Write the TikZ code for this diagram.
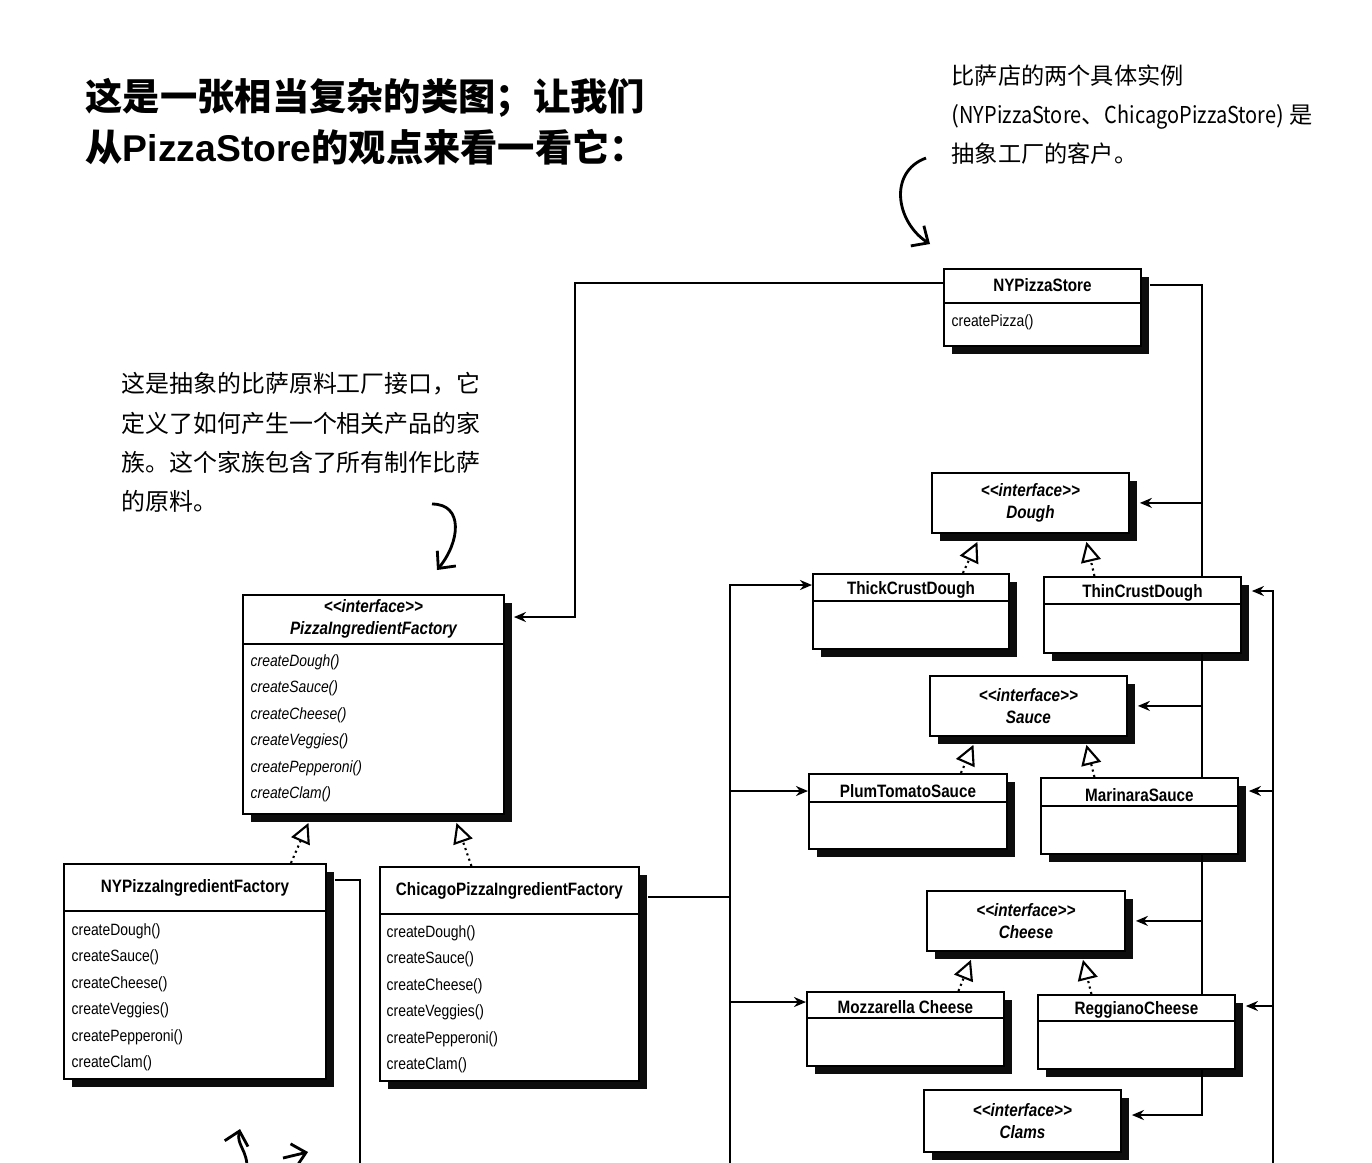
\documentclass[tikz,border=0pt]{standalone}
\usepackage{fontspec}
\usetikzlibrary{arrows.meta,positioning,calc,shadows,backgrounds}
\newfontfamily\umlfont[FakeStretch=0.85,Ligatures=TeXOff]{Liberation Sans}
\newfontfamily\latinfont{Liberation Sans}
\newfontfamily\cjkfont{Noto Sans CJK SC}

\begin{document}
\begin{tikzpicture}[
    x=0.01cm, y=-0.01cm,
    cls/.style={draw, line width=0.5pt, fill=white, anchor=north west,
      inner sep=0pt,
      drop shadow={fill=black, opacity=0.95, shadow xshift=0.08cm,
        shadow yshift=-0.08cm}},
    ttl/.style={font=\umlfont\bfseries\fontsize{5.1}{6}\selectfont},
    ifc/.style={font=\umlfont\bfseries\itshape\fontsize{5.1}{6.3}\selectfont,
      align=center},
    meth/.style={font=\umlfont\fontsize{4.65}{7.5}\selectfont, align=left,
      anchor=north west, inner sep=0pt},
    imeth/.style={meth, font=\umlfont\itshape\fontsize{4.65}{7.5}\selectfont},
    sep/.style={line width=0.4pt},
    wire/.style={line width=0.7pt},
    assoc/.style={wire, -{Stealth[length=1.2mm,width=1mm]}},
    realize/.style={line width=0.6pt, densely dotted,
      -{Triangle[open,length=2mm,width=2mm,line width=0.6pt]}},
    hand/.style={line width=0.8pt, -{Straight Barb[length=1.3mm,width=2.4mm]}},
    note/.style={font=\cjkfont\fontsize{6.6}{11.1}\selectfont, align=left,
      anchor=north west, inner sep=0pt}
  ]
  \useasboundingbox (0,0) rectangle (1372,1162);

  % heading and notes
  \node[font=\cjkfont\bfseries\fontsize{10.6}{14.5}\selectfont, align=left,
    anchor=north west, inner sep=0pt] (title) at (85,78)
    {这是一张相当复杂的类图；让我们\\从{\latinfont PizzaStore}的观点来看一看它：};
  \node[note] (storeNote) at (951,64)
    {比萨店的两个具体实例\\({\addfontfeature{FakeStretch=0.86}NYPizzaStore}、{\addfontfeature{FakeStretch=0.86}ChicagoPizzaStore}) 是\\抽象工厂的客户。};
  \node[note, font=\cjkfont\fontsize{6.8}{11.1}\selectfont] (pifNote) at (121,372)
    {这是抽象的比萨原料工厂接口，它\\定义了如何产生一个相关产品的家\\族。这个家族包含了所有制作比萨\\的原料。};

  % client
  \node[cls, minimum width=1.97cm, minimum height=0.77cm] (store) at (943,268) {};
  \node[ttl] (storeT) at ($(store.north)+(0,17)$) {NYPizzaStore};
  \draw[sep] ($(store.north west)+(0,35)$) -- ($(store.north east)+(0,35)$);
  \node[meth] (storeM) at ($(store.north west)+(8,46)$) {createPizza()};

  % abstract factory
  \node[cls, minimum width=2.61cm, minimum height=2.19cm] (pif) at (242,594) {};
  \node[ifc] (pifT) at ($(pif.north)+(0,25)$) {<<interface>>\\PizzaIngredientFactory};
  \draw[sep] ($(pif.north west)+(0,50)$) -- ($(pif.north east)+(0,50)$);
  \node[imeth] (pifM) at ($(pif.north west)+(8,60)$)
    {createDough()\\createSauce()\\createCheese()\\createVeggies()\\createPepperoni()\\createClam()};

  % concrete factories
  \node[cls, minimum width=2.62cm, minimum height=2.15cm] (nyf) at (63,863) {};
  \node[ttl] (nyfT) at ($(nyf.north)+(0,25)$) {NYPizzaIngredientFactory};
  \draw[sep] ($(nyf.north west)+(0,48)$) -- ($(nyf.north east)+(0,48)$);
  \node[meth] (nyfM) at ($(nyf.north west)+(8,60)$)
    {createDough()\\createSauce()\\createCheese()\\createVeggies()\\createPepperoni()\\createClam()};

  \node[cls, minimum width=2.59cm, minimum height=2.14cm] (chf) at (379,866) {};
  \node[ttl] (chfT) at ($(chf.north)+(0,25)$) {ChicagoPizzaIngredientFactory};
  \draw[sep] ($(chf.north west)+(0,48)$) -- ($(chf.north east)+(0,48)$);
  \node[meth] (chfM) at ($(chf.north west)+(7,59)$)
    {createDough()\\createSauce()\\createCheese()\\createVeggies()\\createPepperoni()\\createClam()};

  % products
  \node[cls, ifc, minimum width=1.97cm, minimum height=0.6cm] (dough) at (931,472)
    {<<interface>>\\Dough};
  \node[cls, minimum width=1.96cm, minimum height=0.75cm] (thick) at (812,573) {};
  \node[ttl] (thickT) at ($(thick.north)+(0,17)$) {ThickCrustDough};
  \draw[sep] ($(thick.north west)+(0,28)$) -- ($(thick.north east)+(0,28)$);
  \node[cls, minimum width=1.97cm, minimum height=0.76cm] (thin) at (1043,576) {};
  \node[ttl] (thinT) at ($(thin.north)+(0,17)$) {ThinCrustDough};
  \draw[sep] ($(thin.north west)+(0,28)$) -- ($(thin.north east)+(0,28)$);

  \node[cls, ifc, minimum width=1.97cm, minimum height=0.6cm] (sauce) at (929,675)
    {<<interface>>\\Sauce};
  \node[cls, minimum width=1.98cm, minimum height=0.75cm] (plum) at (808,773) {};
  \node[ttl] (plumT) at ($(plum.north)+(0,18)$) {PlumTomatoSauce};
  \draw[sep] ($(plum.north west)+(0,29)$) -- ($(plum.north east)+(0,29)$);
  \node[cls, minimum width=1.97cm, minimum height=0.76cm] (marinara) at (1040,777) {};
  \node[ttl] (marinaraT) at ($(marinara.north)+(0,18)$) {MarinaraSauce};
  \draw[sep] ($(marinara.north west)+(0,29)$) -- ($(marinara.north east)+(0,29)$);

  \node[cls, ifc, minimum width=1.98cm, minimum height=0.6cm] (cheese) at (926,890)
    {<<interface>>\\Cheese};
  \node[cls, minimum width=1.97cm, minimum height=0.74cm] (mozz) at (806,991) {};
  \node[ttl] (mozzT) at ($(mozz.north)+(0,16)$) {Mozzarella Cheese};
  \draw[sep] ($(mozz.north west)+(0,27)$) -- ($(mozz.north east)+(0,27)$);
  \node[cls, minimum width=1.97cm, minimum height=0.74cm] (reggiano) at (1037,994) {};
  \node[ttl] (reggianoT) at ($(reggiano.north)+(0,16)$) {ReggianoCheese};
  \draw[sep] ($(reggiano.north west)+(0,27)$) -- ($(reggiano.north east)+(0,27)$);

  \node[cls, ifc, minimum width=1.97cm, minimum height=0.62cm] (clams) at (923,1089)
    {<<interface>>\\Clams};

  % associations, behind the boxes
  \begin{scope}[on background layer]
    \draw[assoc] ($(store.north west)+(0,15)$) -| ($(pif.north east)+(70,23)$)
      -- ($(pif.north east)+(9,23)$);

    \coordinate (bus) at ($(store.north east)+(60,17)$);
    \draw[assoc] ($(store.north east)+(8,17)$) -- (bus)
      |- ($(clams.north east)+(10,26)$);
    \draw[assoc] (bus |- dough.east) -- ($(dough.east)+(10,0)$);
    \draw[assoc] (bus |- sauce.east) -- ($(sauce.east)+(10,0)$);
    \draw[assoc] (bus |- cheese.east) -- ($(cheese.east)+(10,0)$);

    \coordinate (chfOut) at ($(chf.north east)+(8,31)$);
    \coordinate (cbus) at (730,1175);
    \coordinate (thickIn) at ($(thick.north west)+(0,12)$);
    \coordinate (plumIn) at ($(plum.north west)+(0,18)$);
    \coordinate (mozzIn) at ($(mozz.north west)+(0,11)$);
    \draw[wire] (chfOut) -- (cbus |- chfOut);
    \draw[assoc] (cbus) |- (thickIn);
    \draw[assoc] (cbus |- plumIn) -- (plumIn);
    \draw[assoc] (cbus |- mozzIn) -- (mozzIn);

    \coordinate (nyOut) at ($(nyf.north east)+(8,17)$);
    \coordinate (nbus) at (360,1175);
    \draw[wire] (nyOut) -| (nbus);
    \coordinate (rbus) at (1273,1175);
    \coordinate (thinIn) at ($(thin.north east)+(10,15)$);
    \coordinate (marIn) at ($(marinara.north east)+(10,14)$);
    \coordinate (regIn) at ($(reggiano.north east)+(10,12)$);
    \draw[assoc] (rbus) |- (thinIn);
    \draw[assoc] (rbus |- marIn) -- (marIn);
    \draw[assoc] (rbus |- regIn) -- (regIn);
  \end{scope}

  % implements
  \draw[realize] ($(thick.north)+(52,0)$) -- ($(dough.south)+(-53,8)$);
  \draw[realize] ($(thin.north)+(-48,0)$) -- ($(dough.south)+(56,8)$);
  \draw[realize] ($(plum.north)+(53,0)$) -- ($(sauce.south)+(-55,8)$);
  \draw[realize] ($(marinara.north)+(-45,0)$) -- ($(sauce.south)+(58,8)$);
  \draw[realize] ($(mozz.north)+(53,0)$) -- ($(cheese.south)+(-55,8)$);
  \draw[realize] ($(reggiano.north)+(-45,0)$) -- ($(cheese.south)+(57,8)$);
  \draw[realize] ($(nyf.north)+(96,0)$) -- ($(pif.south)+(-65,8)$);
  \draw[realize] ($(chf.north)+(-38,0)$) -- ($(pif.south)+(83,8)$);

  % hand drawn pointers
  \coordinate (n1s) at (926,158);
  \coordinate (n1e) at (930,244);
  \draw[hand] (n1s) .. controls (888,172) and (896,222) .. (n1e);
  \coordinate (n2s) at (432,504);
  \coordinate (n2e) at (437,570);
  \draw[hand] (n2s) .. controls (464,504) and (460,542) .. (n2e);
  \coordinate (n3s) at (247,1170);
  \coordinate (n3e) at (240,1129);
  \draw[hand] (n3s) .. controls (248,1150) and (236,1145) .. (n3e);
  \coordinate (n4s) at (283,1158);
  \coordinate (n4e) at (308,1152);
  \draw[hand] (n4s) -- (n4e);
\end{tikzpicture}
\end{document}
